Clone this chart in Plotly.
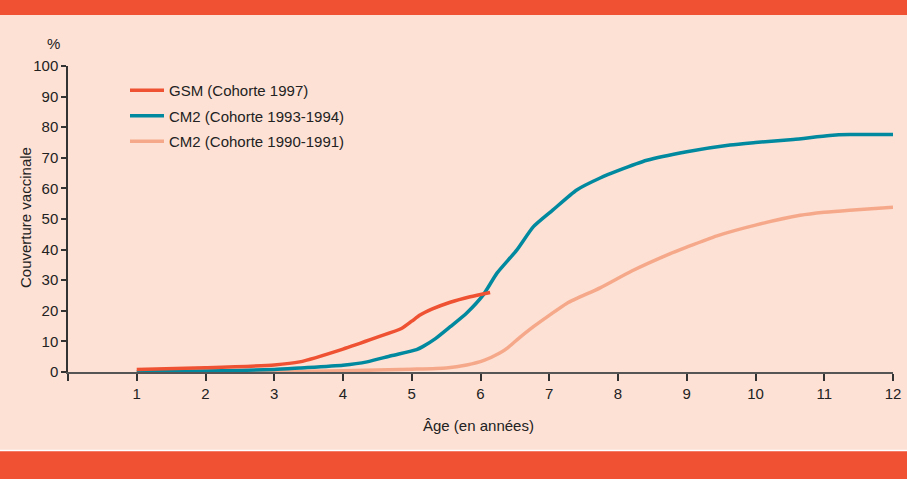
import plotly.graph_objects as go

# Data
gsm_age = [1, 2, 3, 3.37, 4.0, 4.49, 4.85, 5.0, 5.12, 5.3, 5.56, 5.85, 6.14]
gsm_val = [0.8, 1.4, 2.3, 3.3, 7.5, 11.3, 14.2, 16.6, 18.6, 20.6, 22.8, 24.6, 26.0]

cm2_9394_age = [1, 2, 3, 3.37, 4.0, 4.35, 4.7, 5.07, 5.16, 5.35, 5.56, 5.8, 6.04, 6.24, 6.53, 6.77,
                7.05, 7.4, 7.74, 8.0, 8.42, 9.0, 9.63, 10.0, 10.55, 11.08, 11.37, 12.0]
cm2_9394_val = [0.0, 0.3, 0.8, 1.3, 2.2, 3.3, 5.3, 7.3, 8.3, 11.0, 14.8, 19.3, 25.2, 32.3, 39.9, 47.5,
                52.9, 59.5, 63.4, 65.8, 69.2, 72.0, 74.2, 75.0, 76.0, 77.3, 77.6, 77.6]

cm2_9091_age = [1, 2, 3, 4, 5, 5.5, 5.8, 6.05, 6.28, 6.4, 6.53, 6.77, 7.0, 7.26, 7.74, 8.2, 8.71,
                9.0, 9.44, 10.0, 10.65, 11.0, 11.37, 12.0]
cm2_9091_val = [0.0, 0.1, 0.2, 0.4, 0.9, 1.3, 2.3, 3.8, 6.2, 8.0, 10.5, 14.8, 18.5, 22.5, 27.5, 33.0, 38.2,
                40.8, 44.5, 48.0, 51.2, 52.2, 52.9, 53.8]

x_ticks = list(range(0, 13))
x_ticktext = [""] + [str(v) for v in range(1, 13)]
y_ticks = list(range(0, 101, 10))

RED = "#EE5232"
TEAL = "#00899F"
SALMON = "#F6A98A"
BG = "#FDE1D5"
BAND = "#F05133"
FONT = "Liberation Sans Narrow, Liberation Sans, Arial, sans-serif"

fig = go.Figure()
for name, xs, ys, col, g, rank in [
    ("CM2 (Cohorte 1990-1991)", cm2_9091_age, cm2_9091_val, SALMON, "c", 3),
    ("CM2 (Cohorte 1993-1994)", cm2_9394_age, cm2_9394_val, TEAL, "b", 2),
    ("GSM (Cohorte 1997)", gsm_age, gsm_val, RED, "a", 1),
]:
    fig.add_trace(go.Scatter(x=xs, y=ys, mode="lines", name=name, legendgroup=g, legendrank=rank,
                             line=dict(color=col, width=3.5, shape="spline", smoothing=0.6)))

L, R, T, B = 68, 14, 66, 107
W, H = 907, 479
ph = H - T - B
pw = W - L - R

def py(p):
    return (H - B - p) / ph

def px(p):
    return (p - L) / pw

shapes = [
    dict(type="rect", xref="paper", yref="paper", x0=px(-5), x1=px(W + 5), y0=py(15), y1=py(-5),
         fillcolor=BAND, line=dict(width=0), layer="below"),
    dict(type="rect", xref="paper", yref="paper", x0=px(-5), x1=px(W + 5), y0=py(451), y1=py(H + 5),
         fillcolor=BAND, line=dict(width=0), layer="below"),
    dict(type="line", xref="paper", yref="paper", x0=px(-5), x1=px(W + 5), y0=py(450.5), y1=py(450.5),
         line=dict(color="white", width=1.5), layer="below"),
]

fig.update_layout(
    width=W, height=H,
    margin=dict(l=L, r=R, t=T, b=B, autoexpand=False),
    paper_bgcolor=BG, plot_bgcolor=BG,
    font=dict(family=FONT, size=15, color="#222"),
    shapes=shapes,
    showlegend=True,
    legend=dict(x=px(125), y=py(74), xanchor="left", yanchor="top", bgcolor="rgba(0,0,0,0)",
                traceorder="grouped", tracegroupgap=3, itemwidth=34,
                font=dict(size=15, color="#222")),
    xaxis=dict(range=[0, 12], tickvals=x_ticks, ticktext=x_ticktext, showgrid=False, zeroline=False,
               automargin=False,
               showline=True, linecolor="#555", linewidth=1.5, ticks="outside", ticklen=7,
               tickcolor="#333", tickwidth=1.5, tickfont=dict(size=15, color="#222")),
    yaxis=dict(range=[0, 100], tickvals=y_ticks, showgrid=False, zeroline=False,
               automargin=False,
               showline=True, linecolor="#333", linewidth=1.5, ticks="outside", ticklen=5,
               tickcolor="#333", tickwidth=1.5, tickfont=dict(size=15, color="#222")),
    annotations=[
        dict(text="%", xref="paper", yref="paper", x=px(53), y=py(43), showarrow=False,
             xanchor="center", yanchor="middle", font=dict(size=15, color="#222")),
        dict(text="Couverture vaccinale", xref="paper", yref="paper", x=px(25), y=py(218),
             xanchor="center", yanchor="middle",
             textangle=-90, showarrow=False, font=dict(size=15, color="#222")),
        dict(text="Âge (en années)", xref="paper", yref="paper", x=px(478), y=py(425),
             xanchor="center", yanchor="middle",
             showarrow=False, font=dict(size=15, color="#222")),
    ],
)

fig.write_html("out.html", config={"displayModeBar": False},
               post_script="document.body.style.margin='0';document.body.style.overflow='hidden';")
